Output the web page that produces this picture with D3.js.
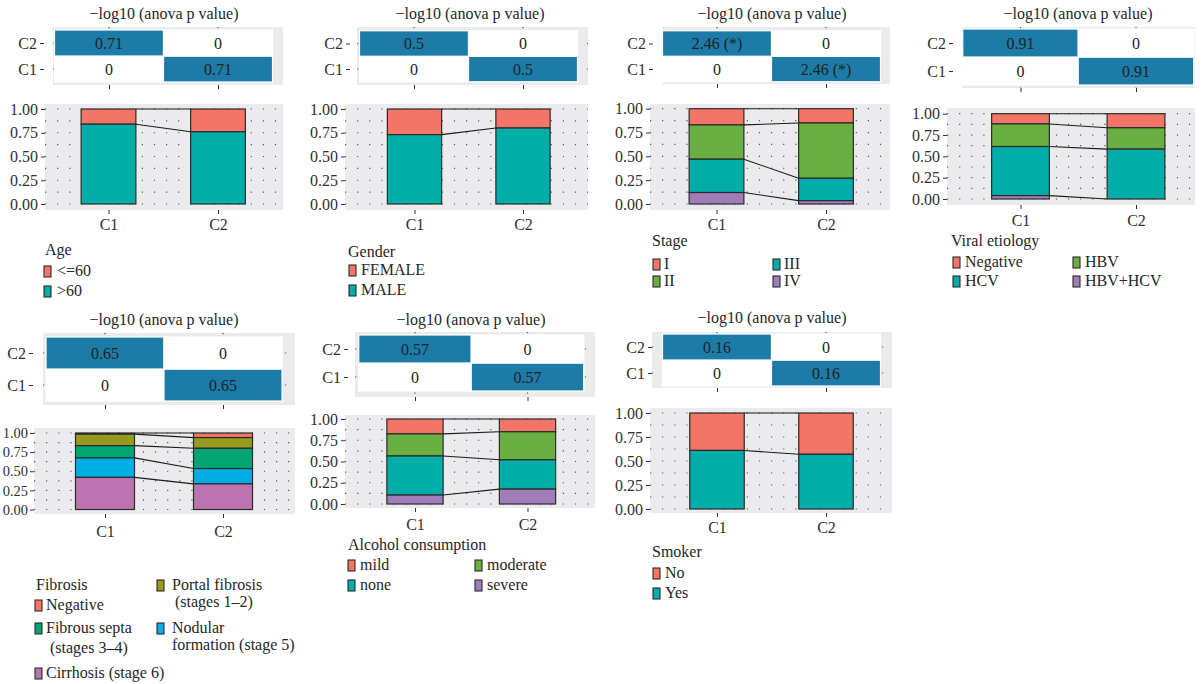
<!DOCTYPE html>
<html>
<head>
<meta charset="utf-8">
<script src="https://cdn.jsdelivr.net/npm/d3@7"></script>
<style>
  body { margin: 0; background: #ffffff; }
  svg { display: block; font-family: "Liberation Serif", "DejaVu Serif", serif; }
</style>
</head>
<body>
<svg id="chart" width="1202" height="684"></svg>
<script>
// ---------- data ----------
const clusters = ["C1", "C2"];
const scoreTitle = "\u2212log10 (anova p value)";
const yTickValues = [0, 0.25, 0.5, 0.75, 1];
const gridStep = 0.125;
const sigThreshold = 1.3; // -log10(0.05)

// -log10 ANOVA p value per clinical variable
const anovaScores = [0.71, 0.5, 2.46, 0.91, 0.65, 0.57, 0.16];

// proportions within each cluster, listed from the top segment down
const ageLevels = ["<=60", ">60"];
const ageC1 = [0.16, 0.84];
const ageC2 = [0.24, 0.76];

const genderLevels = ["FEMALE", "MALE"];
const genderC1 = [0.27, 0.73];
const genderC2 = [0.20, 0.80];

const stageLevels = ["I", "II", "III", "IV"];
const stageC1 = [0.17, 0.36, 0.35, 0.12];
const stageC2 = [0.15, 0.58, 0.235, 0.035];

const viralLevels = ["Negative", "HBV", "HCV", "HBV+HCV"];
const viralC1 = [0.12, 0.265, 0.575, 0.04];
const viralC2 = [0.165, 0.25, 0.585, 0.0];

const fibrosisLevels = [["Negative"], ["Portal fibrosis", "(stages 1\u20132)"], ["Fibrous septa", "(stages 3\u20134)"],
                        ["Nodular", "formation (stage 5)"], ["Cirrhosis (stage 6)"]];
const fibrosisC1 = [0.015, 0.15, 0.16, 0.255, 0.42];
const fibrosisC2 = [0.06, 0.14, 0.265, 0.20, 0.335];

const alcoholLevels = ["mild", "moderate", "none", "severe"];
const alcoholC1 = [0.175, 0.26, 0.46, 0.105];
const alcoholC2 = [0.15, 0.33, 0.345, 0.175];

const smokerLevels = ["No", "Yes"];
const smokerC1 = [0.39, 0.61];
const smokerC2 = [0.43, 0.57];

const variableNames = ["Age", "Gender", "Stage", "Viral etiology", "Fibrosis", "Alcohol consumption", "Smoker"];

// ---------- colours ----------
const cRed = "#F27568", cGreen = "#6AB040", cTeal = "#00ADA8", cPurple = "#A07DB8";
const fibColors = ["#F27568", "#979A1E", "#00A671", "#00AEE5", "#BC74B0"];
const tileBlue = "#1D7BA8";
const panelGrey = "#EBEBED";

const panels = [
  { name: variableNames[0], levels: ageLevels, c1: ageC1, c2: ageC2, colors: [cRed, cTeal], score: anovaScores[0] },
  { name: variableNames[1], levels: genderLevels, c1: genderC1, c2: genderC2, colors: [cRed, cTeal], score: anovaScores[1] },
  { name: variableNames[2], levels: stageLevels, c1: stageC1, c2: stageC2, colors: [cRed, cGreen, cTeal, cPurple], score: anovaScores[2] },
  { name: variableNames[3], levels: viralLevels, c1: viralC1, c2: viralC2, colors: [cRed, cGreen, cTeal, cPurple], score: anovaScores[3] },
  { name: variableNames[4], levels: fibrosisLevels, c1: fibrosisC1, c2: fibrosisC2, colors: fibColors, score: anovaScores[4] },
  { name: variableNames[5], levels: alcoholLevels, c1: alcoholC1, c2: alcoholC2, colors: [cRed, cGreen, cTeal, cPurple], score: anovaScores[5] },
  { name: variableNames[6], levels: smokerLevels, c1: smokerC1, c2: smokerC2, colors: [cRed, cTeal], score: anovaScores[6] }
];

// ---------- layout (pixel geometry of each panel) ----------
const layout = [
  { title: [164, 19],
    hm: { x0: 53, x1: 283, y0: 27, y1: 85, cx: [109, 218], cy: [69, 43], axisX: 44 },
    bar: { x0: 45, x1: 283, y0: 104, y1: 210, cx: [108.5, 218], top: 109, bot: 204, lab: 230, tickFont: 16, tickPad: 3 },
    legTitle: [45, 255],
    leg: [ { k: [44, 276], t: [[57, 276]] }, { k: [44, 296], t: [[57, 296]] } ] },
  { title: [470, 19],
    hm: { x0: 357, x1: 588, y0: 27, y1: 85, cx: [414, 523], cy: [69, 43.5], axisX: 350 },
    bar: { x0: 345, x1: 588, y0: 104, y1: 210, cx: [414.5, 523], top: 109, bot: 204, lab: 230, tickFont: 16, tickPad: 3 },
    legTitle: [348, 257],
    leg: [ { k: [349, 275], t: [[361, 275]] }, { k: [349, 295], t: [[361, 295]] } ] },
  { title: [772, 19],
    hm: { x0: 662, x1: 890, y0: 27, y1: 84, cx: [717, 826], cy: [69, 43.5], axisX: 653 },
    bar: { x0: 650, x1: 890, y0: 104, y1: 210, cx: [716.5, 826], top: 108.7, bot: 204, lab: 230, tickFont: 16, tickPad: 3 },
    legTitle: [652, 246],
    leg: [ { k: [653, 269], t: [[664, 269]] }, { k: [653, 286], t: [[664, 286]] },
           { k: [773, 269], t: [[784, 269]] }, { k: [773, 286], t: [[784, 286]] } ] },
  { title: [1078, 19],
    hm: { x0: 962, x1: 1195, y0: 27, y1: 88, cx: [1020.5, 1136], cy: [71, 43], axisX: 953 },
    bar: { x0: 947, x1: 1195, y0: 108, y1: 205, cx: [1020.5, 1136], top: 113.7, bot: 199, lab: 226, tickFont: 16, tickPad: 3 },
    legTitle: [951, 246],
    leg: [ { k: [953, 267], t: [[965, 267]] }, { k: [1073, 267], t: [[1085, 267]] },
           { k: [953, 286], t: [[965, 286]] }, { k: [1073, 286], t: [[1085, 286]] } ] },
  { title: [164, 325],
    hm: { x0: 43, x1: 295, y0: 333, y1: 405, cx: [105, 223], cy: [385, 353], axisX: 33 },
    bar: { x0: 34, x1: 295, y0: 428, y1: 514, cx: [105, 223], top: 433, bot: 509.5, lab: 537, tickFont: 14.5, tickPad: 2 },
    legTitle: [36, 590],
    leg: [ { k: [35, 610], t: [[46, 610]] },
           { k: [157, 590], t: [[172, 590], [175, 607]] },
           { k: [35, 633], t: [[46, 633], [50, 653]] },
           { k: [157, 633], t: [[172, 633], [172, 650]] },
           { k: [35, 678], t: [[46, 678]] } ] },
  { title: [471, 325],
    hm: { x0: 355, x1: 595, y0: 332, y1: 397, cx: [415, 527.5], cy: [377, 349], axisX: 348 },
    bar: { x0: 345, x1: 595, y0: 415, y1: 508, cx: [415, 527.5], top: 419, bot: 504, lab: 530, tickFont: 16, tickPad: 3 },
    legTitle: [348, 550],
    leg: [ { k: [348, 570], t: [[360, 570]] }, { k: [475, 570], t: [[487, 570]] },
           { k: [348, 590], t: [[360, 590]] }, { k: [475, 590], t: [[487, 590]] } ] },
  { title: [772, 323],
    hm: { x0: 652, x1: 892, y0: 332, y1: 388, cx: [717, 826], cy: [373, 347], axisX: 652 },
    bar: { x0: 650, x1: 892, y0: 408, y1: 513, cx: [717, 826], top: 413, bot: 509, lab: 533, tickFont: 16, tickPad: 3 },
    legTitle: [652, 557],
    leg: [ { k: [653, 578], t: [[665, 578]] }, { k: [653, 598], t: [[665, 598]] } ] }
];

// ---------- drawing ----------
const FS = 16;
const textCol = "#262626";
const axisCol = "#303030";
const svg = d3.select("#chart");

function dottedLine(g, x1, y1, x2, y2) {
  g.append("line")
    .attr("x1", x1).attr("y1", y1).attr("x2", x2).attr("y2", y2)
    .attr("stroke", "#555").attr("stroke-width", 1.2)
    .attr("stroke-dasharray", "1.2 10.9");
}

function styleAxis(sel, size) {
  sel.attr("font-size", size || FS).attr("font-family", null);
  sel.select(".domain").remove();
  sel.selectAll(".tick line").attr("stroke", axisCol).attr("stroke-width", 1);
  sel.selectAll(".tick text").attr("fill", axisCol);
}

panels.forEach((p, i) => {
  const L = layout[i];
  const g = svg.append("g").attr("class", "panel");

  // title
  g.append("text")
    .attr("x", L.title[0]).attr("y", L.title[1])
    .attr("text-anchor", "middle").attr("font-size", FS).attr("fill", textCol)
    .text(scoreTitle);

  // ----- heatmap of -log10 p values -----
  const H = L.hm;
  const hx = d3.scalePoint().domain(clusters).range(H.cx);
  const hy = d3.scalePoint().domain(clusters).range(H.cy);
  const cw = H.cx[1] - H.cx[0];
  const ch = H.cy[0] - H.cy[1];
  const tileFill = d3.scaleThreshold().domain([1e-9]).range(["#ffffff", tileBlue]);

  g.append("rect").attr("x", H.x0).attr("y", H.y0)
    .attr("width", H.x1 - H.x0).attr("height", H.y1 - H.y0).attr("fill", panelGrey);
  H.cy.forEach(y => dottedLine(g, H.x0, y, H.x1, y));
  H.cx.forEach(x => dottedLine(g, x, H.y0, x, H.y1));

  const cells = [];
  clusters.forEach(r => clusters.forEach(c => cells.push({ row: r, col: c, v: r === c ? 0 : p.score })));
  const cell = g.selectAll(".cell").data(cells).enter().append("g");
  cell.append("rect")
    .attr("x", d => hx(d.col) - cw / 2).attr("y", d => hy(d.row) - ch / 2)
    .attr("width", cw).attr("height", ch)
    .attr("fill", d => tileFill(d.v)).attr("stroke", "#ffffff").attr("stroke-width", 1.2);
  cell.append("text")
    .attr("x", d => hx(d.col)).attr("y", d => hy(d.row))
    .attr("dy", "0.35em").attr("text-anchor", "middle")
    .attr("font-size", FS).attr("fill", "#222")
    .text(d => d.v === 0 ? "0" : String(d.v) + (d.v > sigThreshold ? " (*)" : ""));

  g.append("g").attr("transform", `translate(${H.axisX},0)`)
    .call(d3.axisLeft(hy).tickSize(4).tickPadding(3))
    .call(styleAxis);
  g.append("g").attr("transform", `translate(0,${H.y1})`)
    .call(d3.axisBottom(hx).tickSize(4).tickFormat(""))
    .call(styleAxis);

  // ----- stacked proportion bars -----
  const B = L.bar;
  const bx = d3.scalePoint().domain(clusters).range(B.cx);
  const by = d3.scaleLinear().domain([0, 1]).range([B.bot, B.top]);
  const bw = (B.cx[1] - B.cx[0]) / 2;

  g.append("rect").attr("x", B.x0).attr("y", B.y0)
    .attr("width", B.x1 - B.x0).attr("height", B.y1 - B.y0).attr("fill", panelGrey);
  d3.range(0, 1 + 1e-9, gridStep).forEach(v => dottedLine(g, B.x0, by(v), B.x1, by(v)));

  // cumulative segment tops for each cluster
  const tops = { C1: [], C2: [] };
  const segs = [];
  [["C1", p.c1], ["C2", p.c2]].forEach(([cl, vals]) => {
    let top = 1;
    vals.forEach((v, j) => {
      tops[cl].push(top);
      segs.push({ cl, j, top, bottom: top - v });
      top -= v;
    });
  });

  // connectors between segment tops
  p.levels.forEach((lv, j) => {
    g.append("line")
      .attr("x1", bx("C1") + bw / 2).attr("y1", by(tops.C1[j]))
      .attr("x2", bx("C2") - bw / 2).attr("y2", by(tops.C2[j]))
      .attr("stroke", "#1a1a1a").attr("stroke-width", 1.1);
  });

  g.selectAll(".seg").data(segs).enter().append("rect")
    .attr("x", d => bx(d.cl) - bw / 2).attr("y", d => by(d.top))
    .attr("width", bw).attr("height", d => by(d.bottom) - by(d.top))
    .attr("fill", d => p.colors[d.j])
    .attr("stroke", "#2a2a2a").attr("stroke-width", 1.2);

  g.append("g").attr("transform", `translate(${B.x0},0)`)
    .call(d3.axisLeft(by).tickValues(yTickValues).tickFormat(d3.format(".2f")).tickSize(4).tickPadding(B.tickPad))
    .call(styleAxis, B.tickFont);
  g.append("g").attr("transform", `translate(0,${B.y1})`)
    .call(d3.axisBottom(bx).tickSize(4))
    .call(styleAxis)
    .call(a => a.selectAll(".tick text").attr("y", B.lab - B.y1).attr("dy", null));

  // ----- legend -----
  g.append("text").attr("x", L.legTitle[0]).attr("y", L.legTitle[1])
    .attr("font-size", FS).attr("fill", textCol).text(p.name);
  p.levels.forEach((lv, j) => {
    const item = L.leg[j];
    const lines = Array.isArray(lv) ? lv : [lv];
    g.append("rect")
      .attr("x", item.k[0]).attr("y", item.k[1] - 10)
      .attr("width", 7).attr("height", 11)
      .attr("fill", p.colors[j]).attr("stroke", "#2a2a2a").attr("stroke-width", 1.1);
    lines.forEach((ln, k) => {
      g.append("text").attr("x", item.t[k][0]).attr("y", item.t[k][1])
        .attr("font-size", FS).attr("fill", textCol).text(ln);
    });
  });
});
</script>
</body>
</html>
